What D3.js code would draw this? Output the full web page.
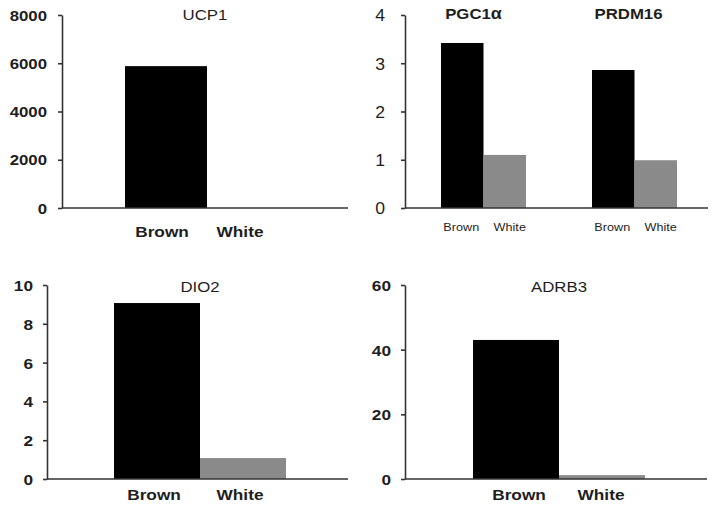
<!DOCTYPE html>
<html><head><meta charset="utf-8">
<script src="https://cdn.jsdelivr.net/npm/d3@7"></script>
<style>body{margin:0;background:#fff}svg{display:block}text{font-family:"Liberation Sans",Arial,sans-serif;fill:#1e1e1e}</style>
</head><body>
<script>
const groups = ["Brown", "White"];
const ucp1 = [5880, 0];
const genesB = ["PGC1α", "PRDM16"];
const pgc1a = [3.42, 1.10];
const prdm16 = [2.86, 0.99];
const dio2 = [9.07, 1.08];
const adrb3 = [43.0, 1.2];
const ucp1Ticks = [0, 2000, 4000, 6000, 8000];
const pgcTicks = [0, 1, 2, 3, 4];
const dio2Ticks = [0, 2, 4, 6, 8, 10];
const adrb3Ticks = [0, 20, 40, 60];
const colors = ["#000000", "#8a8a8a"];

const W = 714, H = 507;
const svg = d3.select("body").append("svg").attr("width", W).attr("height", H);
const SX = 1.2;

function txt(g, x, y, s, o) {
  const t = g.append("text")
    .attr("transform", `translate(${x},${y}) scale(${o.sx || SX},1)`)
    .attr("text-anchor", o.anchor || "middle")
    .attr("font-size", o.size)
    .attr("font-weight", o.weight || "normal")
    .text(s);
  return t;
}

function yAxis(y, x0, ticks, gap, size, weight, sx) {
  const g = svg.append("g").attr("transform", `translate(${x0},0)`)
    .call(d3.axisLeft(y).tickValues(ticks).tickSize(4).tickSizeOuter(0).tickFormat(d3.format("d")));
  g.select(".domain").attr("stroke", "#333").attr("stroke-width", 1.6);
  g.selectAll(".tick line").attr("stroke", "#333").attr("stroke-width", 1.6);
  g.selectAll(".tick text")
    .attr("x", -gap / sx).attr("dy", "0.36em")
    .attr("transform", `scale(${sx},1)`)
    .attr("font-family", '"Liberation Sans",Arial,sans-serif')
    .attr("font-size", size).attr("font-weight", weight).attr("fill", "#1e1e1e");
  return g;
}

function baseline(x0, x1, yv) {
  svg.append("line").attr("x1", x0).attr("x2", x1).attr("y1", yv).attr("y2", yv)
    .attr("stroke", "#333").attr("stroke-width", 1.6);
}

function simplePanel(opt) {
  const y = d3.scaleLinear().domain(opt.domain).range(opt.yr);
  const x = d3.scaleBand().domain(groups).range(opt.xr).padding(0);
  svg.append("g").selectAll("rect").data(opt.values).join("rect")
    .attr("x", (d, i) => x(groups[i])).attr("width", x.bandwidth())
    .attr("y", d => y(d)).attr("height", d => y(0) - y(d))
    .attr("fill", (d, i) => colors[i]);
  baseline(opt.ax, opt.axEnd, y(0));
  yAxis(y, opt.ax, opt.ticks, opt.gap, opt.tickSize, "bold", opt.tickSx);
  txt(svg, opt.titleX, opt.titleY, opt.title, {size: 14});
  groups.forEach((gname, i) => {
    txt(svg, x(gname) + x.bandwidth() / 2 + opt.labOff[i], opt.labY, gname, {size: 15, weight: "bold", sx: 1.15});
  });
}

simplePanel({title: "UCP1", values: ucp1, domain: [0, 8000], yr: [208, 15], xr: [125, 289],
  ax: 62, axEnd: 348, ticks: ucp1Ticks, gap: 15, tickSize: 14, tickSx: 1.2,
  titleX: 205, titleY: 20, labY: 237, labOff: [-4, -8]});
simplePanel({title: "DIO2", values: dio2, domain: [0, 10], yr: [479, 285], xr: [114, 286],
  ax: 47, axEnd: 348, ticks: dio2Ticks, gap: 14, tickSize: 15, tickSx: 1.15,
  titleX: 200, titleY: 292, labY: 500, labOff: [-3, -3]});
simplePanel({title: "ADRB3", values: adrb3, domain: [0, 60], yr: [479, 285], xr: [473, 645],
  ax: 405, axEnd: 707, ticks: adrb3Ticks, gap: 14, tickSize: 15, tickSx: 1.15,
  titleX: 559, titleY: 292, labY: 500, labOff: [3, -1]});

// Panel 2: PGC1α / PRDM16
(function () {
  const y = d3.scaleLinear().domain([0, 4]).range([208, 15]);
  const x0 = d3.scaleBand().domain(genesB).range([441, 677]).paddingInner(0.437).paddingOuter(0);
  const x1 = d3.scaleBand().domain(groups).range([0, x0.bandwidth()]).padding(0);
  const vals = [pgc1a, prdm16];
  genesB.forEach((gname, gi) => {
    const g = svg.append("g").attr("transform", `translate(${x0(gname)},0)`);
    g.selectAll("rect").data(vals[gi]).join("rect")
      .attr("x", (d, i) => x1(groups[i])).attr("width", x1.bandwidth())
      .attr("y", d => y(d)).attr("height", d => y(0) - y(d))
      .attr("fill", (d, i) => colors[i]);
    groups.forEach((lab, i) => {
      txt(svg, x0(gname) + x1(lab) + x1.bandwidth() / 2 + (i === 0 ? -1 : 5), 231, lab, {size: 11, sx: 1.15});
    });
  });
  baseline(405, 708, y(0));
  yAxis(y, 405, pgcTicks, 20, 16, "normal", 1.1);
  const t1 = txt(svg, x0("PGC1α") + x0.bandwidth() / 2 - 10, 19, "PGC1", {size: 15, weight: "bold", sx: 1.12});
  t1.append("tspan").attr("font-size", 16).text("α");
  txt(svg, x0("PRDM16") + x0.bandwidth() / 2 - 6, 19, "PRDM16", {size: 15, weight: "bold", sx: 1.12});
})();
</script>
</body></html>
